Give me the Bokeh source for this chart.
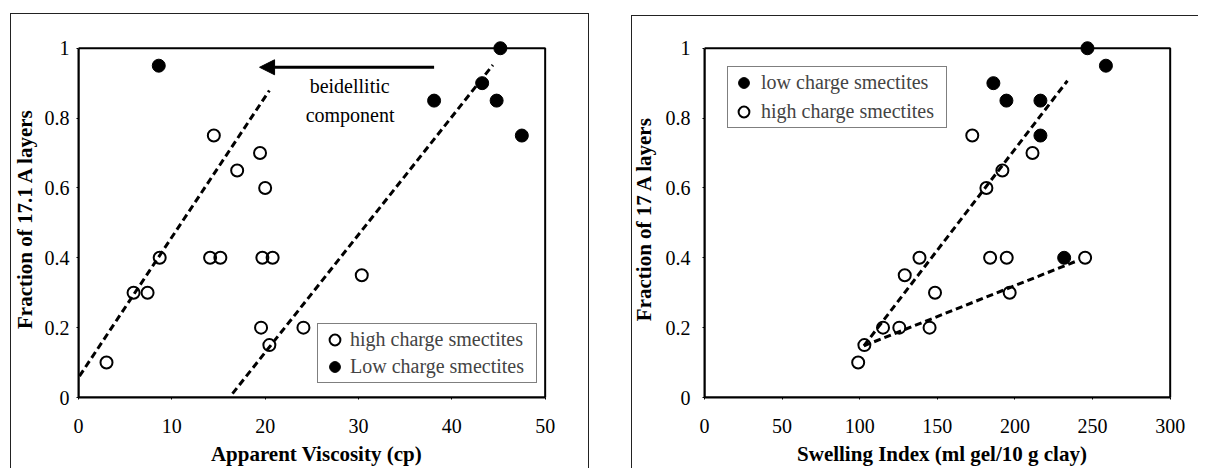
from bokeh.plotting import figure
from bokeh.models import Range1d, FixedTicker, Legend, LegendItem, Arrow, NormalHead
from bokeh.layouts import row
from bokeh.embed import file_html
from bokeh.resources import INLINE
from bokeh.core.properties import value

# ---------------- data: left panel (Apparent Viscosity) ----------------
visc_high_x = [3.0, 5.9, 7.4, 8.7, 14.1, 15.2, 14.5, 17.0, 19.45, 20.0, 19.7, 20.8, 19.56, 20.45, 24.1, 30.35]
visc_high_y = [0.10, 0.30, 0.30, 0.40, 0.40, 0.40, 0.75, 0.65, 0.70, 0.60, 0.40, 0.40, 0.20, 0.15, 0.20, 0.35]
visc_low_x = [8.6, 38.1, 43.25, 44.8, 45.2, 47.5]
visc_low_y = [0.95, 0.85, 0.90, 0.85, 1.00, 0.75]
visc_trend1_x = [0.1, 20.45]
visc_trend1_y = [0.061, 0.879]
visc_trend2_x = [16.5, 44.4]
visc_trend2_y = [0.011, 0.952]
arrow_x = [38.1, 19.4]
arrow_y = [0.9455, 0.9455]
note_x = [29.05, 29.1]
note_y = [0.891, 0.81]
note_text = ["beidellitic", "component"]
visc_ticks = [0, 10, 20, 30, 40, 50]
frac_ticks = [0, 0.2, 0.4, 0.6, 0.8, 1]
frac_tick_labels = ["0", "0.2", "0.4", "0.6", "0.8", "1"]

# ---------------- data: right panel (Swelling Index) ----------------
swell_high_x = [99, 103, 115, 125.5, 145, 129, 138.5, 148.5, 172.5, 181.6, 191.9, 211.3, 184, 194.7, 196.6, 245.2]
swell_high_y = [0.10, 0.15, 0.20, 0.20, 0.20, 0.35, 0.40, 0.30, 0.75, 0.60, 0.65, 0.70, 0.40, 0.40, 0.30, 0.40]
swell_low_x = [186.1, 194.5, 216.4, 216.4, 246.7, 258.6, 231.7]
swell_low_y = [0.90, 0.85, 0.85, 0.75, 1.00, 0.95, 0.40]
swell_trendA_x = [102.7, 233.8]
swell_trendA_y = [0.148, 0.907]
swell_trendB_x = [102.7, 239.3]
swell_trendB_y = [0.148, 0.39]
swell_ticks = [0, 50, 100, 150, 200, 250, 300]

SERIF = "Liberation Serif"
LINE = "linear-gradient(#222,#222)"


def style_axes(p, xticks, xmax, ylabel, xlabel, y_std, y_lab_std, x_std, x_lab_std):
    p.xgrid.visible = False
    p.ygrid.visible = False
    p.outline_line_color = None
    p.background_fill_color = "white"
    p.border_fill_alpha = 0
    for ax in (p.xaxis[0], p.yaxis[0]):
        ax.axis_line_color = "black"
        ax.axis_line_width = 2
        ax.major_tick_line_color = "black"
        ax.major_tick_out = 2
        ax.major_tick_in = 0
        ax.minor_tick_line_color = None
        ax.major_label_text_font = SERIF
        ax.major_label_text_font_size = "20px"
        ax.major_label_text_color = "black"
        ax.axis_label_text_font = SERIF
        ax.axis_label_text_font_size = "21px"
        ax.axis_label_text_font_style = "bold"
        ax.axis_label_text_color = "black"
    p.xaxis[0].ticker = FixedTicker(ticks=xticks)
    p.xaxis[0].bounds = (0, xmax)
    p.yaxis[0].ticker = FixedTicker(ticks=frac_ticks)
    p.yaxis[0].bounds = (0, 1)
    p.yaxis[0].major_label_overrides = dict(zip(frac_ticks, frac_tick_labels))
    p.yaxis[0].axis_label = ylabel
    p.xaxis[0].axis_label = xlabel
    p.yaxis[0].major_label_standoff = y_std
    p.yaxis[0].axis_label_standoff = y_lab_std
    p.xaxis[0].major_label_standoff = x_std
    p.xaxis[0].axis_label_standoff = x_lab_std
    # plot box top and right edges (left/bottom are the axis lines)
    p.quad(left=[0], right=[xmax], bottom=[0], top=[1], fill_color=None,
           line_color="black", line_width=2)


# ---------------- left figure ----------------
p1 = figure(width=600, height=468, x_range=Range1d(0, 51), y_range=Range1d(0, 1.025),
            min_border_left=78, min_border_right=46, min_border_top=36, min_border_bottom=71,
            toolbar_location=None, output_backend="svg",
            styles={"background": f"{LINE} 10px 13px / 1px 100% no-repeat, "
                                  f"{LINE} 10px 13px / 579px 1px no-repeat, "
                                  f"{LINE} 588px 13px / 1px 100% no-repeat"})
style_axes(p1, visc_ticks, 50, "Fraction of 17.1 A layers", "Apparent Viscosity (cp)", 7, 5, 19, 6)

p1.line(visc_trend1_x, visc_trend1_y, line_color="black", line_width=3, line_dash="7 4")
p1.line(visc_trend2_x, visc_trend2_y, line_color="black", line_width=3, line_dash="7 4")
r1h = p1.scatter(visc_high_x, visc_high_y, marker="circle", size=12, fill_color=None,
                 line_color="black", line_width=2)
r1l = p1.scatter(visc_low_x, visc_low_y, marker="circle", size=13, fill_color="black",
                 line_color="black", line_width=1)
p1.add_layout(Arrow(end=NormalHead(size=15, fill_color="black", line_color="black"),
                    x_start=arrow_x[0], y_start=arrow_y[0], x_end=arrow_x[1], y_end=arrow_y[1],
                    line_width=3, line_color="black"))
p1.text(x=note_x, y=note_y, text=note_text, text_font=value(SERIF), text_font_size="20px",
        text_align="center", text_baseline="middle", text_color="black")

leg1 = Legend(items=[LegendItem(label="high charge smectites", renderers=[r1h]),
                     LegendItem(label="Low charge smectites", renderers=[r1l])],
              location=(239, 14), padding=2, spacing=0, glyph_width=29, glyph_height=27,
              label_height=27, label_width=184, label_standoff=1, margin=0,
              label_text_font=SERIF, label_text_font_size="20px",
              border_line_color="black", border_line_width=1,
              background_fill_color="white", background_fill_alpha=1)
p1.add_layout(leg1)

# ---------------- right figure ----------------
p2 = figure(width=598, height=468, x_range=Range1d(0, 306), y_range=Range1d(0, 1.025),
            min_border_left=104, min_border_right=19, min_border_top=39, min_border_bottom=71,
            toolbar_location=None, output_backend="svg",
            styles={"background": f"{LINE} 31px 15px / 1px 100% no-repeat, "
                                  f"{LINE} 31px 15px / 100% 1px no-repeat"})
style_axes(p2, swell_ticks, 300, "Fraction of 17 A layers", "Swelling Index (ml gel/10 g clay)", 12, 7, 19, 6)

p2.line(swell_trendA_x, swell_trendA_y, line_color="black", line_width=3, line_dash="7 4")
p2.line(swell_trendB_x, swell_trendB_y, line_color="black", line_width=3, line_dash="7 4")
r2h = p2.scatter(swell_high_x, swell_high_y, marker="circle", size=12, fill_color=None,
                 line_color="black", line_width=2)
r2l = p2.scatter(swell_low_x, swell_low_y, marker="circle", size=13, fill_color="black",
                 line_color="black", line_width=1)

leg2 = Legend(items=[LegendItem(label="low charge smectites", renderers=[r2l]),
                     LegendItem(label="high charge smectites", renderers=[r2h])],
              location=(23, 269), padding=2, spacing=2, glyph_width=27, glyph_height=27,
              label_height=27, label_width=183, label_standoff=4, margin=0,
              label_text_font=SERIF, label_text_font_size="20px",
              border_line_color="black", border_line_width=1,
              background_fill_color="white", background_fill_alpha=1)
p2.add_layout(leg2)

layout = row(p1, p2, spacing=0)
open("out.html", "w").write(file_html(layout, INLINE))
